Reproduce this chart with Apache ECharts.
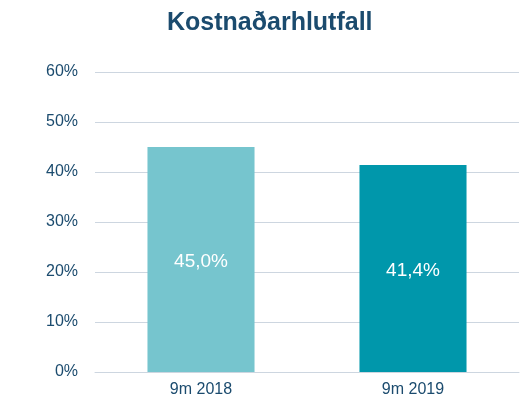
<!DOCTYPE html>
<html>
<head>
<meta charset="utf-8">
<script src="https://cdn.jsdelivr.net/npm/echarts@6/dist/echarts.min.js"></script>
<style>
  html, body { margin: 0; padding: 0; background: #fff; }
  #chart { width: 524px; height: 403px; }
</style>
</head>
<body>
<div id="chart"></div>
<script>
// gögn
var categories = ["9m 2018", "9m 2019"];
var values = [45.0, 41.4];
var barColors = ["#76C5CE", "#0097AB"];

var chart = echarts.init(document.getElementById("chart"));
var option = {
  animation: false,
  title: {
    text: "Kostnaðarhlutfall",
    left: 162,
    top: 6,
    textStyle: {
      color: "#1B4B6E",
      fontFamily: "Liberation Sans, Arial",
      fontWeight: "bold",
      fontSize: 25
    }
  },
  grid: { left: 95, right: 5, top: 72, bottom: 31 },
  xAxis: {
    type: "category",
    data: categories,
    axisLine: { lineStyle: { color: "#CDD6E0", width: 1 } },
    axisTick: { show: false },
    axisLabel: {
      color: "#1B4B6E",
      fontFamily: "Liberation Sans, Arial",
      fontSize: 16,
      margin: 10
    }
  },
  yAxis: {
    type: "value",
    min: 0,
    max: 60,
    interval: 10,
    axisLine: { show: false },
    axisTick: { show: false },
    splitLine: { lineStyle: { color: "#CDD6E0", width: 1 } },
    axisLabel: {
      color: "#1B4B6E",
      fontFamily: "Liberation Sans, Arial",
      fontSize: 16,
      margin: 17,
      formatter: "{value}%"
    }
  },
  series: [
    {
      type: "bar",
      barWidth: "50.5%",
      data: values.map(function (v, i) {
        return { value: v, itemStyle: { color: barColors[i] } };
      }),
      label: {
        show: true,
        position: "inside",
        offset: [0, 2],
        color: "#fff",
        fontFamily: "Liberation Sans, Arial",
        fontSize: 19,
        formatter: function (p) {
          return p.value.toFixed(1).replace(".", ",") + "%";
        }
      }
    }
  ]
};
chart.setOption(option);
</script>
</body>
</html>
